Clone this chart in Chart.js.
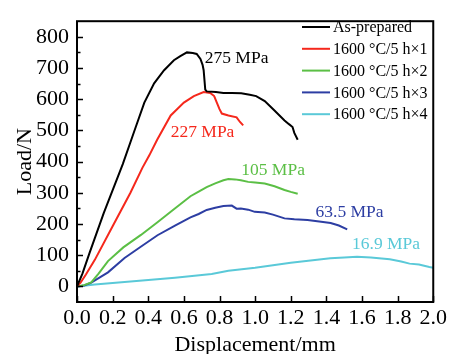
<!DOCTYPE html>
<html>
<head>
<meta charset="utf-8">
<script src="https://cdn.jsdelivr.net/npm/chart.js@4/dist/chart.umd.min.js"></script>
<style>
  html, body { margin: 0; padding: 0; background: #fff; }
  canvas { display: block; }
</style>
</head>
<body>
<canvas id="load-chart" width="450" height="354"></canvas>
<script>
// Series names and strengths
const seriesNames = ['As-prepared', '1600 °C/5 h×1', '1600 °C/5 h×2', '1600 °C/5 h×3', '1600 °C/5 h×4'];
const strengthText = ['275 MPa', '227 MPa', '105 MPa', '63.5 MPa', '16.9 MPa'];

// Displacement (mm) / load (N)
const asPreparedX = [0, 0.03, 0.072, 0.15, 0.257, 0.32, 0.378, 0.433, 0.489, 0.544, 0.58, 0.617, 0.65, 0.672, 0.693, 0.705, 0.711, 0.72, 0.728, 0.78, 0.822, 0.87, 0.922, 0.97, 1.006, 1.054, 1.11, 1.165, 1.19, 1.21, 1.22, 1.239];
const asPreparedLoad = [0, 40, 110, 235, 392, 495, 589, 651, 693, 725, 738, 750, 748, 745, 729, 710, 693, 631, 625, 623, 620, 620, 619, 614, 610, 594, 563, 532, 520, 511, 492, 470];

const h1X = [0, 0.02, 0.05, 0.1, 0.2, 0.3, 0.367, 0.406, 0.45, 0.526, 0.6, 0.656, 0.711, 0.748, 0.77, 0.785, 0.8, 0.813, 0.85, 0.896, 0.915, 0.933];
const h1Load = [0, 12, 38, 85, 193, 300, 380, 420, 470, 548, 589, 610, 623, 620, 610, 589, 568, 554, 548, 542, 527, 516];

const h2X = [0, 0.04, 0.08, 0.12, 0.174, 0.26, 0.359, 0.45, 0.544, 0.637, 0.683, 0.728, 0.776, 0.822, 0.85, 0.887, 0.92, 0.961, 1.0, 1.054, 1.109, 1.165, 1.2, 1.239];
const h2Load = [0, 4, 13, 40, 81, 125, 165, 205, 247, 289, 304, 318, 330, 340, 344, 343, 340, 335, 333, 330, 321, 309, 303, 297];

const h3X = [0, 0.04, 0.08, 0.174, 0.267, 0.36, 0.452, 0.55, 0.637, 0.683, 0.728, 0.776, 0.822, 0.869, 0.896, 0.92, 0.961, 0.998, 1.054, 1.1, 1.165, 1.22, 1.294, 1.36, 1.424, 1.47, 1.517];
const h3Load = [0, 3, 12, 45, 91, 128, 164, 195, 221, 232, 245, 252, 258, 259, 249, 250, 246, 239, 237, 230, 218, 215, 213, 208, 203, 195, 183];

const h4X = [0, 0.1, 0.2, 0.367, 0.55, 0.756, 0.85, 1.0, 1.2, 1.422, 1.5, 1.572, 1.65, 1.756, 1.82, 1.867, 1.92, 1.978, 2.0];
const h4Load = [0, 6, 11, 19, 28, 40, 50, 60, 76, 90, 93, 95, 93, 87, 80, 73, 70, 62, 60];

// Axis ticks
const xTickValues = [0, 0.2, 0.4, 0.6, 0.8, 1.0, 1.2, 1.4, 1.6, 1.8, 2.0];
const yTickValues = [0, 100, 200, 300, 400, 500, 600, 700, 800];
const yMinorValues = [50, 150, 250, 350, 450, 550, 650, 750];

const colors = ['#000000', '#f5281c', '#5bbf45', '#2d3ea3', '#5ac9d8'];
const FONT = '"Liberation Serif", "Times New Roman", serif';

// where the strength labels sit, in data units (left edge, middle)
const strengthPos = [[0.717, 731], [0.526, 492], [0.922, 373], [1.339, 236], [1.544, 134]];

function toPoints(xs, ys) {
    return xs.map((x, i) => ({ x: x, y: ys[i] }));
}

const seriesData = [
    toPoints(asPreparedX, asPreparedLoad),
    toPoints(h1X, h1Load),
    toPoints(h2X, h2Load),
    toPoints(h3X, h3Load),
    toPoints(h4X, h4Load)
];

// frame, inward ticks, legend and strength labels
const decorPlugin = {
    id: 'decor',
    afterDraw(chart) {
        const ctx = chart.ctx;
        const area = chart.chartArea;
        const xs = chart.scales.x;
        const ys = chart.scales.y;
        ctx.save();
        ctx.strokeStyle = '#000';

        ctx.lineWidth = 1.5;
        ctx.beginPath();
        xTickValues.forEach(v => {
            const px = Math.round(xs.getPixelForValue(v)) + 0.5;
            ctx.moveTo(px, area.bottom);
            ctx.lineTo(px, area.bottom - 6);
        });
        yTickValues.forEach(v => {
            const py = Math.round(ys.getPixelForValue(v)) + 0.5;
            ctx.moveTo(area.left, py);
            ctx.lineTo(area.left + 6, py);
        });
        yMinorValues.forEach(v => {
            const py = Math.round(ys.getPixelForValue(v)) + 0.5;
            ctx.moveTo(area.left, py);
            ctx.lineTo(area.left + 3.5, py);
        });
        ctx.stroke();

        ctx.lineWidth = 2;
        ctx.strokeRect(area.left, area.top, area.right - area.left, area.bottom - area.top);

        // legend
        ctx.font = '16px ' + FONT;
        ctx.textBaseline = 'middle';
        ctx.textAlign = 'left';
        chart.data.datasets.forEach((ds, i) => {
            const y = 27 + i * 21.8;
            ctx.strokeStyle = ds.borderColor;
            ctx.lineWidth = 2;
            ctx.beginPath();
            ctx.moveTo(302, y);
            ctx.lineTo(330, y);
            ctx.stroke();
            ctx.fillStyle = '#000';
            ctx.fillText(ds.label, 333, y + 1);
        });

        // strength labels
        ctx.font = '17.5px ' + FONT;
        strengthText.forEach((t, i) => {
            ctx.fillStyle = colors[i];
            ctx.fillText(t, xs.getPixelForValue(strengthPos[i][0]), ys.getPixelForValue(strengthPos[i][1]));
        });
        ctx.restore();
    }
};

new Chart(document.getElementById('load-chart'), {
    type: 'line',
    data: {
        datasets: seriesData.map((pts, i) => ({
            label: seriesNames[i],
            data: pts,
            borderColor: colors[i],
            backgroundColor: colors[i],
            borderWidth: 2,
            pointRadius: 0,
            tension: 0,
            fill: false
        }))
    },
    options: {
        responsive: false,
        animation: false,
        devicePixelRatio: 1,
        layout: { padding: { top: 14, right: 14, left: 0, bottom: 0 } },
        plugins: {
            legend: { display: false },
            tooltip: { enabled: false }
        },
        scales: {
            x: {
                type: 'linear',
                min: 0,
                max: 2,
                afterBuildTicks: s => { s.ticks = xTickValues.map(v => ({ value: v })); },
                afterFit: s => { s.height = 52; },
                grid: { display: false, drawTicks: false },
                border: { display: false },
                ticks: {
                    autoSkip: false,
                    maxRotation: 0,
                    padding: 3,
                    color: '#000',
                    font: { family: FONT, size: 22 },
                    callback: v => v.toFixed(1)
                },
                title: {
                    display: true,
                    text: 'Displacement/mm',
                    color: '#000',
                    font: { family: FONT, size: 22 },
                    padding: { top: 0, bottom: -4 }
                }
            },
            y: {
                type: 'linear',
                min: -50,
                max: 850,
                afterBuildTicks: s => { s.ticks = yTickValues.map(v => ({ value: v })); },
                afterFit: s => { s.width = 77; },
                grid: { display: false, drawTicks: false },
                border: { display: false },
                ticks: {
                    autoSkip: false,
                    padding: 8,
                    color: '#000',
                    font: { family: FONT, size: 22 }
                },
                title: {
                    display: true,
                    text: 'Load/N',
                    color: '#000',
                    font: { family: FONT, size: 22 },
                    padding: { top: 12, bottom: 0 }
                }
            }
        }
    },
    plugins: [decorPlugin]
});
</script>
</body>
</html>
